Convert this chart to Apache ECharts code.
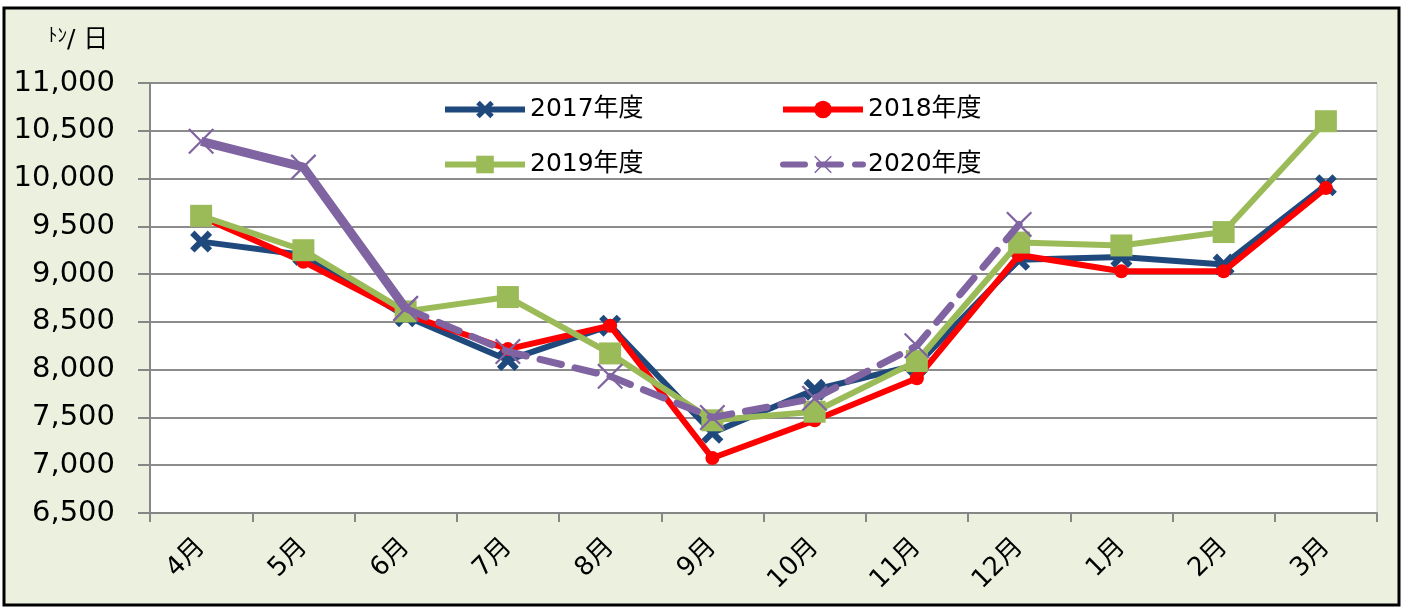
<!DOCTYPE html>
<html>
<head>
<meta charset="utf-8">
<script src="https://cdn.jsdelivr.net/npm/echarts@6/dist/echarts.min.js"></script>
<style>
  html, body { margin: 0; padding: 0; background: #fff; }
  #chart { width: 1405px; height: 607px; }
</style>
</head>
<body>
<div id="chart"></div>
<script>
// months (fiscal year order)
var months = ['4月', '5月', '6月', '7月', '8月', '9月', '10月', '11月', '12月', '1月', '2月', '3月']
// tons per day
var fy2017 = [9340, 9200, 8560, 8100, 8460, 7340, 7790, 8050, 9150, 9180, 9100, 9930]
var fy2018 = [9600, 9130, 8580, 8215, 8460, 7075, 7470, 7910, 9200, 9030, 9030, 9900]
var fy2019 = [9610, 9250, 8610, 8760, 8170, 7470, 7560, 8090, 9330, 9300, 9440, 10600]
var fy2020 = [10390, 10120, 8640, 8190, 7930, 7500, 7700, 8250, 9520, null, null, null]
var yTicks = { min: 6500, max: 11000, step: 500 }

var font = 'DejaVu Sans, Noto Sans CJK JP'
var xThick = 'path://M0,2 L2,0 L5,3 L8,0 L10,2 L7,5 L10,8 L8,10 L5,7 L2,10 L0,8 L3,5 Z'
var xThin = 'path://M0,0.6 L0.6,0 L5,4.4 L9.4,0 L10,0.6 L5.6,5 L10,9.4 L9.4,10 L5,5.6 L0.6,10 L0,9.4 L4.4,5 Z'

// 2020 is drawn solid for Apr-Jun, dashed afterwards
var fy2020solid = fy2020.map(function(v, i) { return i <= 2 ? v : null })
var fy2020dash = fy2020.map(function(v, i) { return i >= 2 ? v : null })

var chart = echarts.init(document.getElementById('chart'))

function legendAt(name, left, top) {
  return {
    data: [name],
    left: left,
    top: top,
    itemWidth: 80,
    itemHeight: 22,
    itemGap: 0,
    lineStyle: { width: 6 },
    textStyle: { fontSize: 25, color: '#000', fontFamily: font }
  }
}

chart.setOption({
  backgroundColor: '#fff',
  animation: false,
  graphic: [{
    type: 'rect',
    z: -10,
    shape: { x: 4, y: 8, width: 1395, height: 597 },
    style: { fill: '#EBF1DE', stroke: '#000', lineWidth: 3 }
  }, {
    type: 'text',
    left: 48,
    top: 28,
    style: {
      text: '{s|ﾄﾝ}{b|/ 日}',
      fill: '#000',
      fontFamily: font,
      rich: {
        s: { fontSize: 19, verticalAlign: 'top', fontFamily: font },
        b: { fontSize: 25, fontFamily: font }
      }
    }
  }],
  grid: {
    left: 150,
    right: 28,
    top: 83,
    bottom: 94,
    show: true,
    backgroundColor: '#fff',
    borderColor: '#d0d0d0',
    borderWidth: 1
  },
  legend: [
    legendAt('2017年度', 437, 92),
    legendAt('2018年度', 775, 92),
    legendAt('2019年度', 437, 147),
    legendAt('2020年度', 775, 147)
  ],
  xAxis: {
    type: 'category',
    data: months,
    boundaryGap: true,
    axisLine: { lineStyle: { color: '#868686', width: 2 } },
    axisTick: { show: true, length: 9, lineStyle: { color: '#868686', width: 2 } },
    axisLabel: { rotate: 45, margin: 30, fontSize: 26, color: '#000', fontFamily: font }
  },
  yAxis: {
    type: 'value',
    min: yTicks.min,
    max: yTicks.max,
    interval: yTicks.step,
    axisLine: { show: true, lineStyle: { color: '#868686', width: 2 } },
    axisTick: { show: true, length: 12, lineStyle: { color: '#868686', width: 2 } },
    splitLine: { lineStyle: { color: '#8c8c8c', width: 2 } },
    axisLabel: {
      margin: 35,
      fontSize: 29,
      color: '#000',
      fontFamily: font,
      formatter: function(v) { return v.toLocaleString('en-US') }
    }
  },
  series: [
    {
      name: '2017年度',
      type: 'line',
      data: fy2017,
      symbol: xThick,
      symbolSize: 22,
      itemStyle: { color: '#1F497D' },
      lineStyle: { color: '#1F497D', width: 6 },
      z: 2
    },
    {
      name: '2018年度',
      type: 'line',
      data: fy2018,
      symbol: 'circle',
      symbolSize: 14,
      itemStyle: { color: '#FF0000' },
      lineStyle: { color: '#FF0000', width: 6 },
      z: 3
    },
    {
      name: '2019年度',
      type: 'line',
      data: fy2019,
      symbol: 'rect',
      symbolSize: 22,
      itemStyle: { color: '#9BBB59' },
      lineStyle: { color: '#9BBB59', width: 6 },
      z: 4
    },
    {
      name: '2020年度',
      type: 'line',
      data: fy2020dash,
      symbol: xThin,
      symbolSize: 26,
      itemStyle: { color: '#8064A2' },
      lineStyle: { color: '#8064A2', width: 7, type: [22, 14], cap: 'round' },
      z: 5
    },
    {
      name: '2020年度(4-6月)',
      type: 'line',
      data: fy2020solid,
      symbol: xThin,
      symbolSize: 26,
      itemStyle: { color: '#8064A2' },
      lineStyle: { color: '#8064A2', width: 9 },
      z: 5
    }
  ]
})
</script>
</body>
</html>
